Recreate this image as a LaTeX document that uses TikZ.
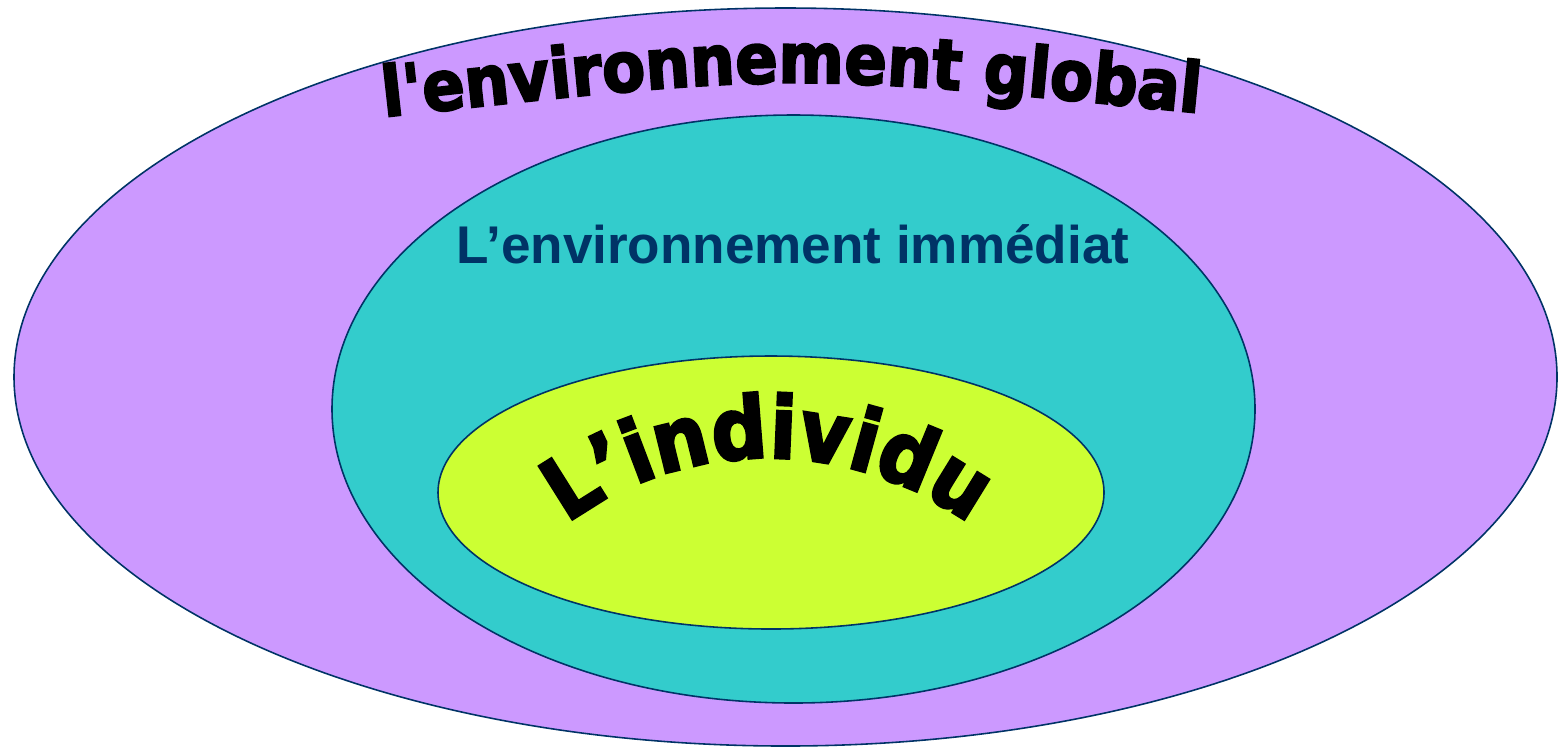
\documentclass[tikz,border=0pt]{standalone}
\usepackage{fontspec}
\usepackage{tikz}
\usetikzlibrary{calc, decorations.text, positioning, shapes}
\setmainfont{Liberation Sans}
\newfontfamily\heavyfont{DejaVu Sans}[UprightFont={* Bold}, FakeStretch=0.9, FakeBold=3, Ligatures=TeXOff]
\definecolor{rimnavy}{HTML}{003366}
\definecolor{globalviolet}{HTML}{CC99FF}
\definecolor{immteal}{HTML}{33CCCC}
\definecolor{indlime}{HTML}{CCFF33}
\tikzset{
	zone/.style={ellipse, draw=rimnavy, line width=.45pt, inner sep=0pt},
	arctext/.style={decorate, decoration={text along path, text align=center, text={#1}}}
}

\begin{document}
\begin{tikzpicture}
		\useasboundingbox (0,0) rectangle (15.6,-7.47);
		\node[zone, fill=globalviolet, minimum width=15.43cm, minimum height=7.38cm] (global) at (7.855,-3.77) {};
		\node[zone, fill=immteal, minimum width=9.23cm, minimum height=5.88cm] (immediat) at (7.935,-4.09) {};
		\node[zone, fill=indlime, minimum width=6.66cm, minimum height=2.73cm] (individu) at (7.71,-4.925) {};
		\node[anchor=base, text=rimnavy, font=\bfseries\fontsize{15.1}{18}\selectfont] (immlabel) at (7.93,-2.63) {L’environnement immédiat};
	% arched titles
		\path[arctext={|\heavyfont\fontsize{19.8}{22}\selectfont|l'environnement global}]
			(3.83,-1.17) .. controls (7.90,-0.72) .. (12.00,-1.13);
		\path[arctext={|\heavyfont\fontsize{24.5}{28}\selectfont|L’individu}]
			(7.68,-7.98) ++(130:3.40) arc[start angle=130, end angle=50, radius=3.40];
\end{tikzpicture}
\end{document}
